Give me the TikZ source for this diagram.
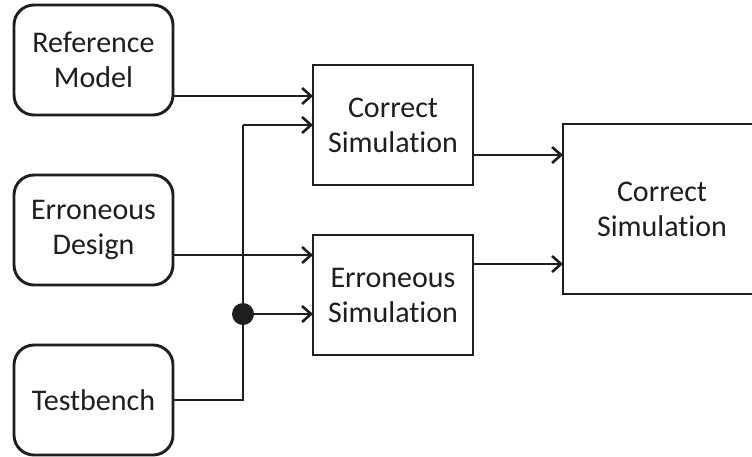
\documentclass[tikz,border=0pt]{standalone}
\usepackage{fontspec}
\setmainfont[Ligatures=NoCommon]{Carlito}
\usetikzlibrary{arrows.meta}
\definecolor{ink}{HTML}{1E1E1E}
\tikzset{
  x=1pt, y=-1pt,
  box/.style={draw=ink, line width=2.9pt, text=ink, align=center,
    font=\fontsize{30}{35}\selectfont, inner sep=0pt},
  srcbox/.style={box, rounded corners=20pt},
  arr/.style={draw=ink, line width=2.6pt,
    -{Straight Barb[length=9pt,width=16pt,line width=2.6pt]}},
  wire/.style={draw=ink, line width=2.6pt},
}
\begin{document}
\begin{tikzpicture}
\clip (0,0) rectangle (752,456);
\fill[white] (0,0) rectangle (752,456);

% source blocks
\node[srcbox, minimum width=159pt, minimum height=110pt] (ref) at (93.5,60) {Reference\\Model};
\node[srcbox, minimum width=159pt, minimum height=110pt] (des) at (93.5,230) {Erroneous\\Design};
\node[srcbox, minimum width=159pt, minimum height=110pt] (tb) at (93.5,400) {Testbench};

% simulation blocks
\node[box, minimum width=160pt, minimum height=120pt] (cs) at (393,125) {Correct\\Simulation};
\node[box, minimum width=160pt, minimum height=120pt] (es) at (393,295) {Erroneous\\Simulation};

% result block (runs past the right edge)
\node[box, minimum width=198pt, minimum height=170pt] (res) at (662,209) {Correct\\Simulation};

% arrow heights
\coordinate (a1) at (313,96);
\coordinate (a2) at (313,125);
\coordinate (a3) at (313,255);
\coordinate (a4) at (313,314);
\coordinate (b1) at (563,155);
\coordinate (b2) at (563,264);
\coordinate (bend) at (243,400);
\coordinate (jn) at (243,314);

\draw[arr] (ref.east |- a1) -- (a1);
\draw[arr] (des.east |- a3) -- (a3);
\draw[wire] (tb.east) -- (bend) -- (bend |- a2);
\draw[arr] (bend |- a2) -- (a2);
\draw[arr] (jn) -- (a4);
\fill[ink] (jn) circle (11pt);

\draw[arr] (cs.east |- b1) -- (b1);
\draw[arr] (es.east |- b2) -- (b2);
\end{tikzpicture}
\end{document}
